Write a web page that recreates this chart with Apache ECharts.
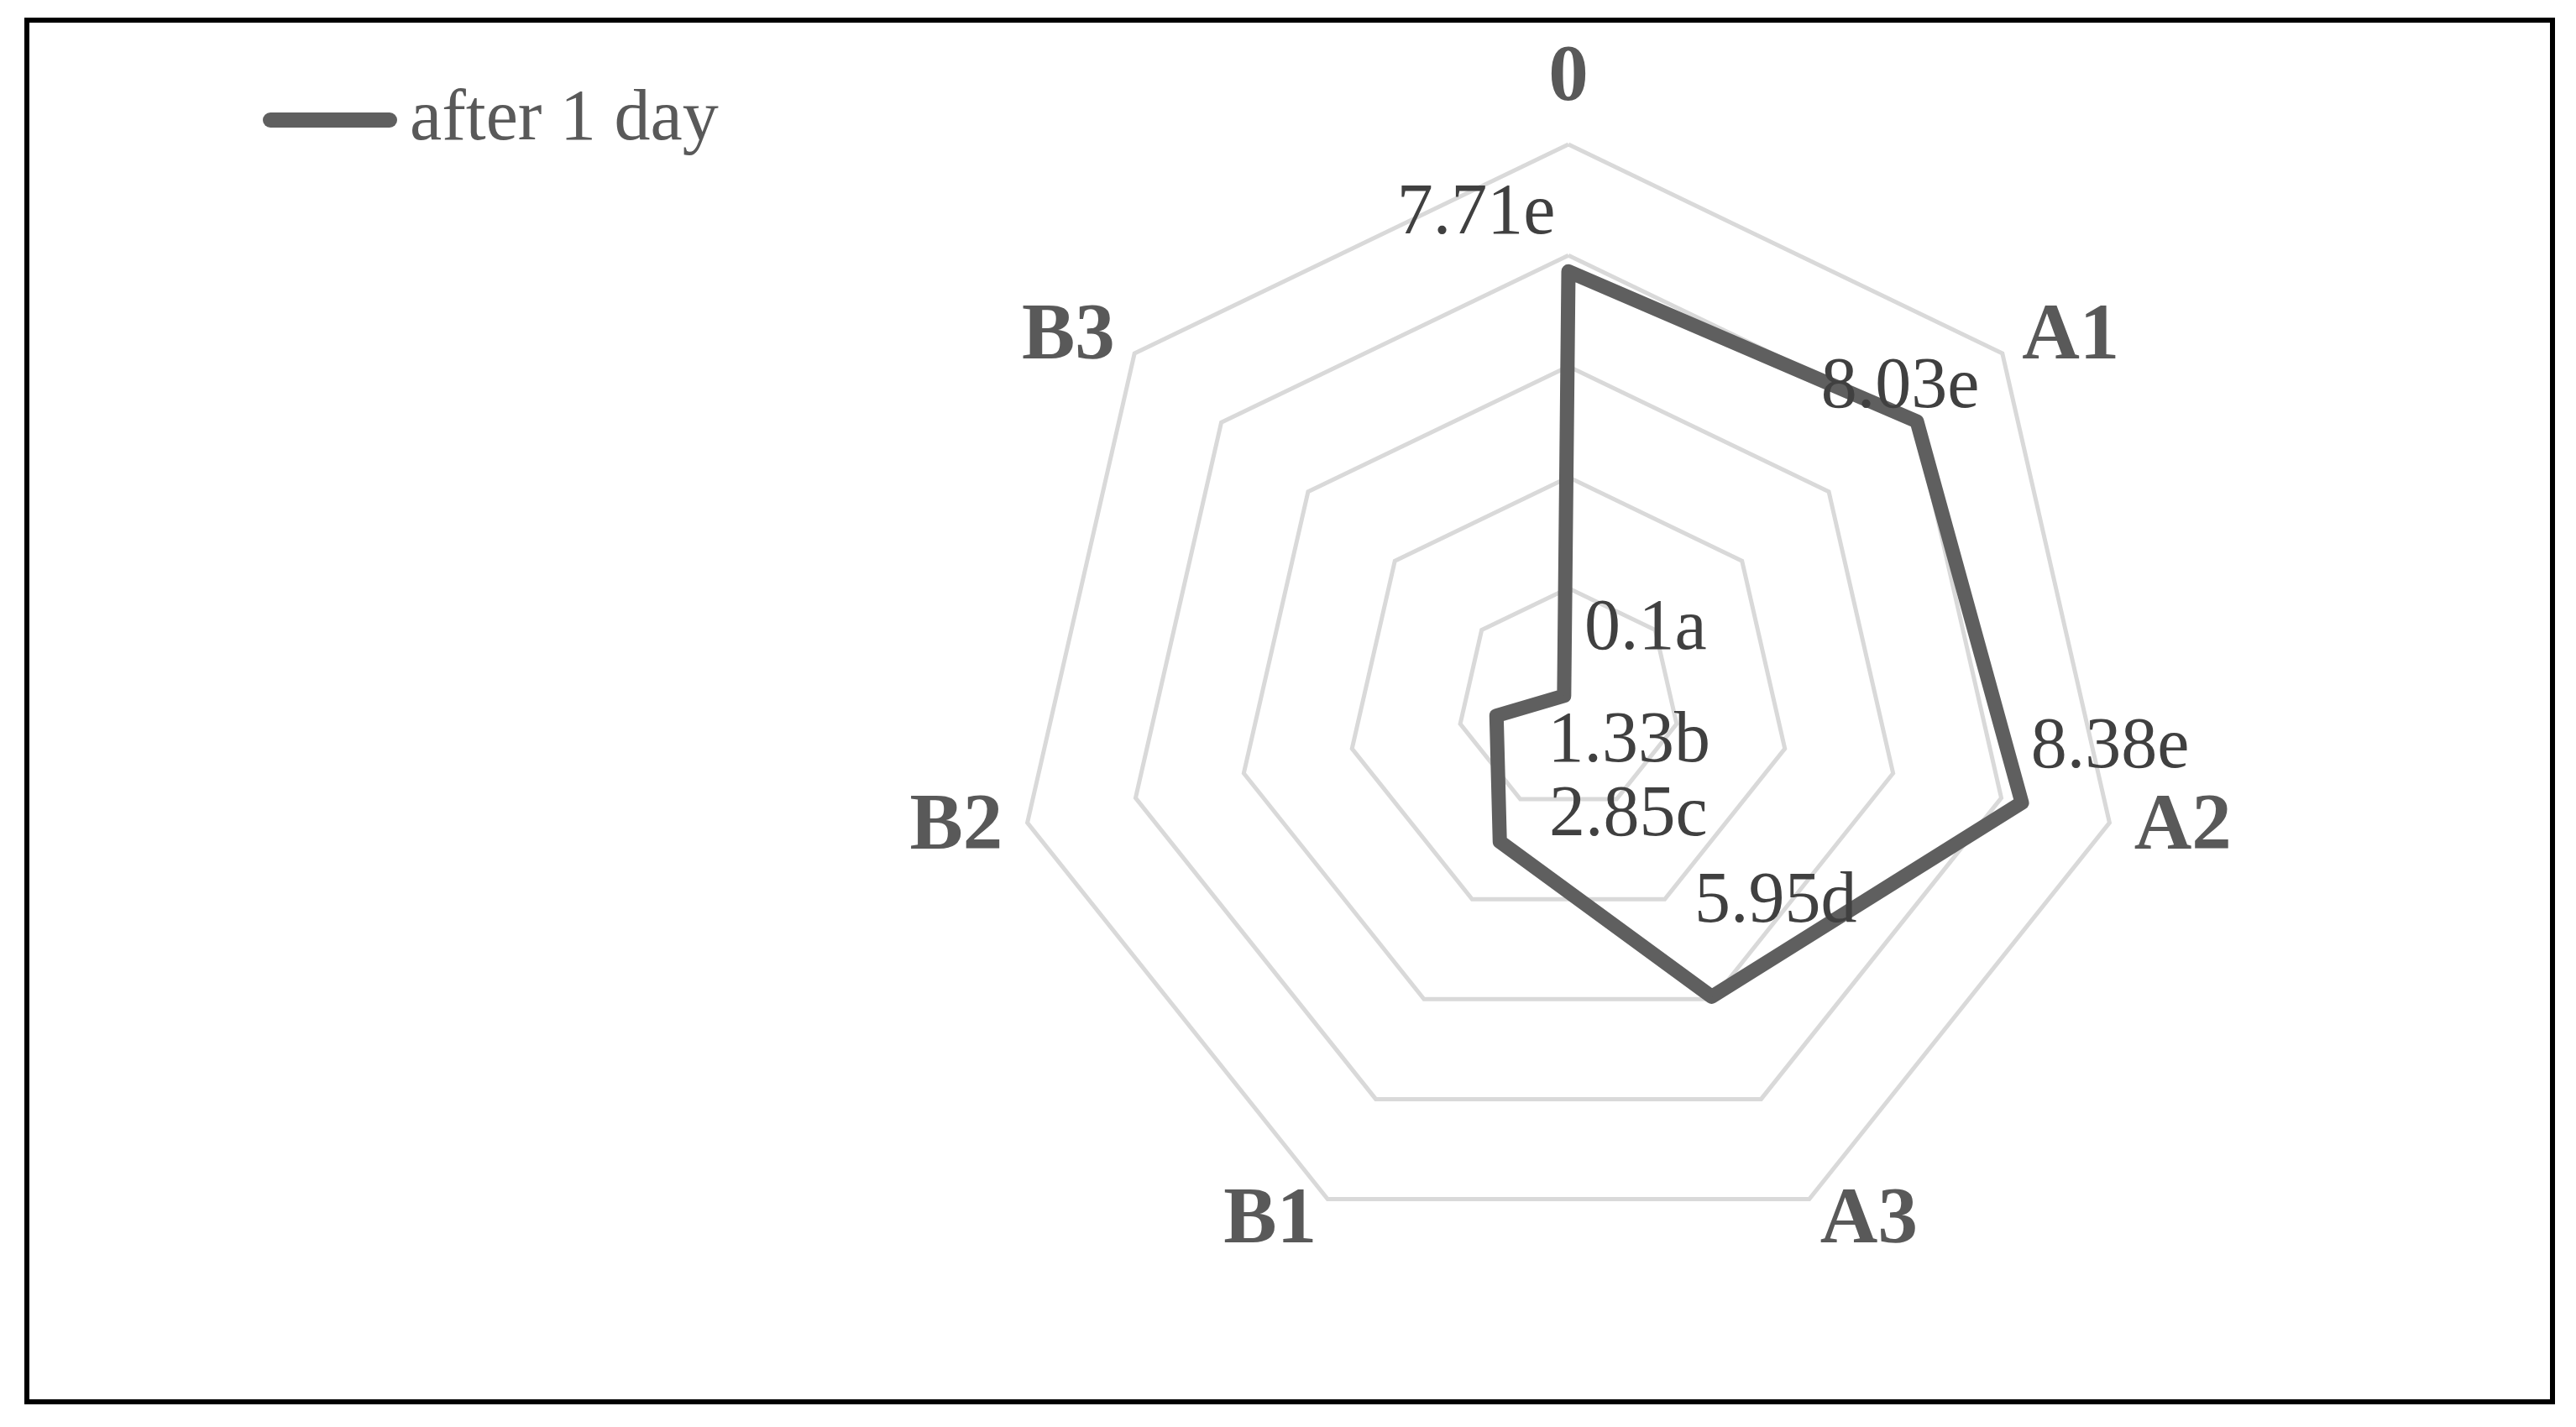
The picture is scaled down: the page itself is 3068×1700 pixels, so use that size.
<!DOCTYPE html>
<html>
<head>
<meta charset="utf-8">
<script src="https://cdn.jsdelivr.net/npm/echarts@6/dist/echarts.min.js"></script>
<style>
html,body{margin:0;padding:0;background:#fff;}
#chart{width:3068px;height:1700px;}
</style>
</head>
<body>
<div id="chart"></div>
<script>
// ---- data ----
const categories = ['0', 'A1', 'A2', 'A3', 'B1', 'B2', 'B3'];
const values = [7.71, 8.03, 8.38, 5.95, 2.85, 1.33, 0.1];
const letters = ['e', 'e', 'e', 'd', 'c', 'b', 'a'];
const seriesName = 'after 1 day';
const axisMax = 10;

// label offsets (px) from each point, in category order
const labelOffsets = [[-110, -68], [-20, -40], [105, -65], [76, -112], [153, -30], [158, 32], [97, -78]];

// ECharts radar places indicators counter-clockwise; reorder so they run clockwise
const order = [0, 6, 5, 4, 3, 2, 1];
const ordCats = order.map(i => categories[i]);
const ordVals = order.map(i => values[i]);
const ordTexts = order.map(i => String(values[i]) + letters[i]);
const ordOffsets = order.map(i => labelOffsets[i]);

const chart = echarts.init(document.getElementById('chart'), null, {renderer: 'canvas'});
const option = {
  backgroundColor: '#ffffff',
  animation: false,
  graphic: [{
    type: 'rect', silent: true, z: -10,
    shape: {x: 32, y: 24, width: 3008, height: 1646},
    style: {fill: 'none', stroke: '#000000', lineWidth: 6}
  }],
  legend: {
    left: 308, top: 95,
    data: [{
      name: seriesName,
      icon: 'path://M9,0 H151 A9,9 0 0 1 151,18 H9 A9,9 0 0 1 9,0 Z',
      itemStyle: {color: '#5f5f5f'}
    }],
    itemWidth: 160, itemHeight: 18,
    textStyle: {fontFamily: 'Liberation Serif', fontSize: 86, color: '#595959', padding: [0, 0, 0, 10]}
  },
  radar: {
    center: [1868, 833],
    radius: 661,
    startAngle: 90,
    splitNumber: 5,
    shape: 'polygon',
    nameGap: 30,
    indicator: ordCats.map(n => ({name: n, min: 0, max: axisMax})),
    axisName: {color: '#595959', fontFamily: 'Liberation Serif', fontWeight: 'bold', fontSize: 95},
    axisLine: {show: false},
    axisTick: {show: false},
    axisLabel: {show: false},
    splitLine: {lineStyle: {color: '#d9d9d9', width: 5}},
    splitArea: {show: false}
  },
  series: [{
    type: 'radar',
    name: seriesName,
    symbol: 'circle',
    symbolSize: 1,
    itemStyle: {color: '#5f5f5f'},
    lineStyle: {color: '#5f5f5f', width: 17, join: 'round', cap: 'round'},
    label: {
      show: true,
      position: 'inside',
      fontFamily: 'Liberation Serif',
      fontSize: 86,
      color: '#404040',
      formatter: function (p) { return ordTexts[p.dimensionIndex]; }
    },
    labelLayout: function (p) {
      const i = ordTexts.indexOf(p.text);
      if (i < 0) return {};
      return {dx: ordOffsets[i][0], dy: ordOffsets[i][1]};
    },
    data: [{name: seriesName, value: ordVals}]
  }]
};
chart.setOption(option);
</script>
</body>
</html>
